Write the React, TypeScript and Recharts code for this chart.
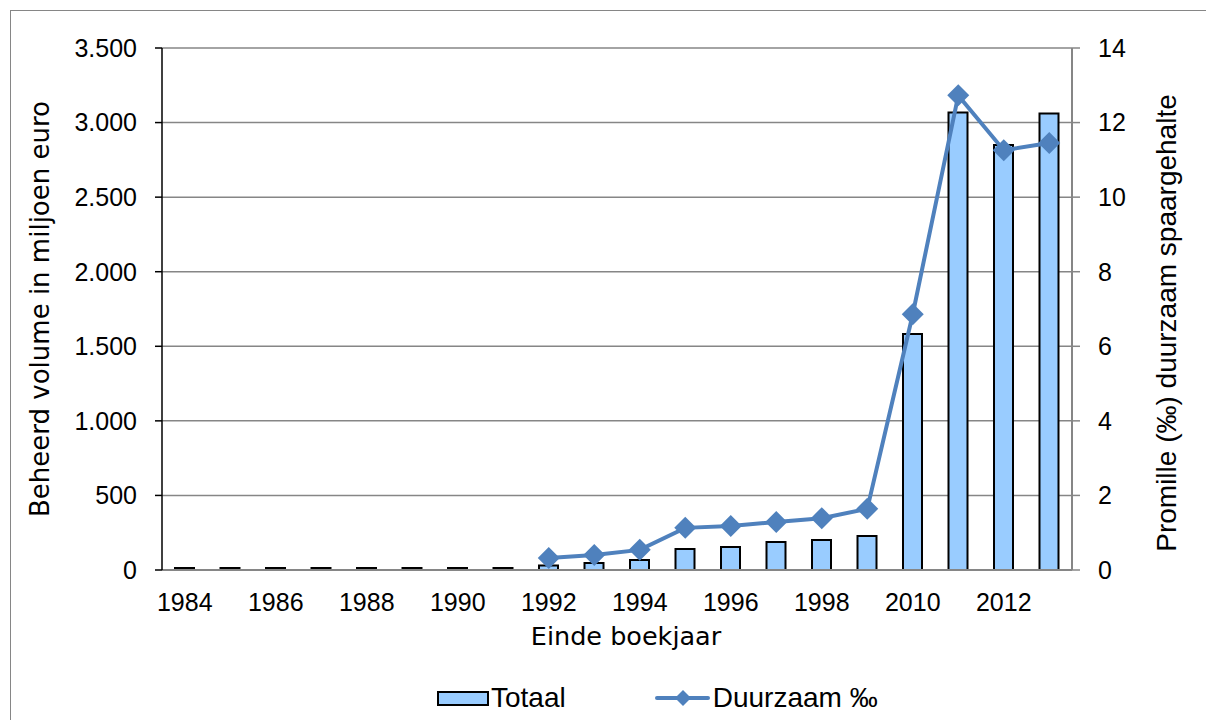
import React from "react"
import { Bar, ComposedChart, CartesianGrid, Legend, Line, XAxis, YAxis } from "recharts"

const years = [
  "1984", "1985", "1986", "1987", "1988", "1989", "1990", "1991", "1992", "1993",
  "1994", "1995", "1996", "1997", "1998", "1999", "2010", "2011", "2012", "2013",
]
// beheerd volume, miljoen euro
const totaal = [2, 3, 4, 5, 7, 9, 10, 14, 30, 47, 67, 141, 154, 188, 201, 228, 1583, 3067, 2850, 3060]
// promille duurzaam spaargehalte
const duurzaam = [
  null, null, null, null, null, null, null, null, 0.32, 0.4,
  0.54, 1.13, 1.18, 1.29, 1.39, 1.64, 6.86, 12.73, 11.26, 11.45,
]
const leftTicks = [0, 500, 1000, 1500, 2000, 2500, 3000, 3500]
const rightTicks = [0, 2, 4, 6, 8, 10, 12, 14]

const data = years.map((jaar, i) => ({ jaar, totaal: totaal[i], duurzaam: duurzaam[i] }))

const BLUE = "#4f81bd"
const GRID = "#868686"
const tickFont = { fontFamily: "Liberation Sans, Arial, sans-serif", fontSize: 25, fill: "#000" }

const fmt = (v: number) => v.toLocaleString("de-DE")

const renderDiamond = (props: any) => {
  const { cx, cy, index } = props
  const r = 11
  if (cx == null || cy == null || Number.isNaN(cy)) return <g key={`d-${index}`} />
  return (
    <path
      key={`d-${index}`}
      d={`M${cx},${cy - r}L${cx + r},${cy}L${cx},${cy + r}L${cx - r},${cy}Z`}
      fill={BLUE}
    />
  )
}

const LegendBox = () => (
  <div
    style={{
      height: 40,
      display: "flex",
      alignItems: "center",
      fontFamily: "Liberation Sans, Arial, sans-serif",
      fontSize: 28,
      color: "#000",
      paddingLeft: 437,
      marginTop: -2,
    }}
  >
    <span
      style={{
        display: "inline-block",
        width: 48,
        height: 11,
        background: "#99ccff",
        border: "2px solid #000",
        marginRight: 2,
      }}
    />
    <span style={{ marginRight: 89 }}>Totaal</span>
    <svg width={56} height={22} style={{ marginRight: 2 }}>
      <line x1={2} y1={11} x2={53} y2={11} stroke={BLUE} strokeWidth={4} strokeLinecap="round" />
      <path d="M28,3L36,11L28,19L20,11Z" fill={BLUE} />
    </svg>
    <span>Duurzaam ‰</span>
  </div>
)

export default function App() {
  return (
    <div style={{ position: "absolute", left: 0, top: 0, width: 1206, height: 720, overflow: "hidden", background: "#fff" }}>
      <div
        style={{
          position: "absolute",
          left: 10,
          top: 10,
          width: 1220,
          height: 740,
          border: `1px solid ${GRID}`,
        }}
      />
      <div style={{ position: "absolute", left: 0, top: 0 }}>
        <ComposedChart width={1206} height={720} data={data} margin={{ top: 48, right: 0, bottom: 0, left: 0 }}>
          <CartesianGrid horizontal={true} vertical={false} stroke={GRID} strokeWidth={1.5} yAxisId="left" />
          <XAxis
            dataKey="jaar"
            interval={1}
            tickLine={false}
            tickSize={0}
            tickMargin={23}
            height={110}
            axisLine={{ stroke: GRID, strokeWidth: 2 }}
            tick={tickFont}
            label={({ viewBox }: any) => (
              <text
                x={viewBox.x + viewBox.width / 2 + 9}
                y={645}
                textAnchor="middle"
                fontFamily="DejaVu Sans, Verdana, sans-serif"
                fontSize={25.5}
                fill="#000"
              >
                Einde boekjaar
              </text>
            )}
          />
          <YAxis
            yAxisId="left"
            width={162}
            domain={[0, 3500]}
            ticks={leftTicks}
            tickFormatter={fmt}
            tickSize={7}
            tickMargin={18}
            tick={tickFont}
            axisLine={{ stroke: "#000", strokeWidth: 1.5 }}
            tickLine={{ stroke: "#000", strokeWidth: 1.5 }}
            label={({ viewBox }: any) => {
              const cx = 40
              const cy = viewBox.y + viewBox.height / 2
              return (
                <text
                  x={cx}
                  y={cy}
                  transform={`rotate(-90 ${cx} ${cy})`}
                  textAnchor="middle"
                  dominantBaseline="central"
                  fontFamily="DejaVu Sans, Verdana, sans-serif"
                  fontSize={26}
                  fill="#000"
                >
                  Beheerd volume in miljoen euro
                </text>
              )
            }}
          />
          <YAxis
            yAxisId="right"
            orientation="right"
            width={134}
            domain={[0, 14]}
            ticks={rightTicks}
            tickSize={8}
            tickMargin={18}
            tick={tickFont}
            axisLine={{ stroke: GRID, strokeWidth: 2 }}
            tickLine={{ stroke: GRID, strokeWidth: 1.5 }}
            label={({ viewBox }: any) => {
              const cx = 1166
              const cy = viewBox.y + viewBox.height / 2 + 14
              return (
                <text
                  x={cx}
                  y={cy}
                  transform={`rotate(-90 ${cx} ${cy})`}
                  textAnchor="middle"
                  dominantBaseline="central"
                  fontFamily="Liberation Sans, Arial, sans-serif"
                  fontSize={28}
                  fill="#000"
                >
                  Promille (‰) duurzaam spaargehalte
                </text>
              )
            }}
          />
          <Legend verticalAlign="bottom" height={40} content={() => <LegendBox />} />
          <Bar
            yAxisId="left"
            dataKey="totaal"
            name="Totaal"
            fill="#99ccff"
            stroke="#000"
            strokeWidth={2}
            barSize={19}
            minPointSize={2}
            isAnimationActive={false}
          />
          <Line
            yAxisId="right"
            dataKey="duurzaam"
            name="Duurzaam ‰"
            stroke={BLUE}
            strokeWidth={4}
            dot={renderDiamond}
            activeDot={false}
            connectNulls={false}
            isAnimationActive={false}
          />
        </ComposedChart>
      </div>
    </div>
  )
}
